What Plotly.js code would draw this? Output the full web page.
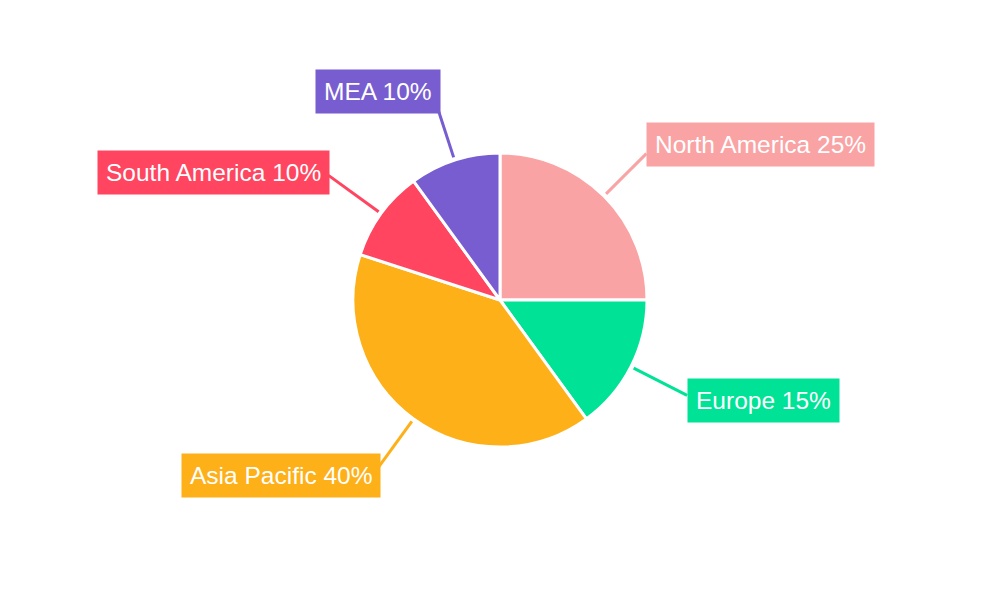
<!DOCTYPE html>
<html>
<head>
<meta charset="utf-8">
<script src="https://cdn.plot.ly/plotly-3.0.1.min.js"></script>
<style>html,body{margin:0;padding:0;background:#fff;}#chart{width:1000px;height:600px;}</style>
</head>
<body>
<div id="chart"></div>
<script>
var regions = ["North America", "Europe", "Asia Pacific", "South America", "MEA"];
var shares = [25, 15, 40, 10, 10];
var colors = ["#F9A3A4", "#00E396", "#FEB019", "#FF4560", "#775DD0"];

// leader-line geometry (pixels) and label box placement
var leaderLen = [57, 60, 56, 62, 48];
var boxSide = ["left", "left", "right", "right", "right"];
var boxDx = [0, 0, 2, 2, 2];
var boxDy = [-9, 5, 9, -3, -20];

var W = 1000, H = 600, mT = 153, mB = 153, mL = 0, mR = 0;
var plotH = H - mT - mB, plotW = W - mL - mR;
var cx = mL + plotW / 2, cy = mT + plotH / 2, R = Math.min(plotW, plotH) / 2;
function toPX(px) { return (px - mL) / plotW; }
function toPY(py) { return (H - mB - py) / plotH; }

var total = shares.reduce(function (a, b) { return a + b; }, 0);
var annotations = [], shapes = [];
var acc = 0;
for (var i = 0; i < regions.length; i++) {
  var mid = (acc + shares[i] / 2) / total * 2 * Math.PI;
  acc += shares[i];
  var s = Math.sin(mid), c = Math.cos(mid);
  var x0 = cx + (R + 3) * s, y0 = cy - (R + 3) * c;
  var x1 = cx + (R + 3 + leaderLen[i]) * s, y1 = cy - (R + 3 + leaderLen[i]) * c;
  shapes.push({
    type: "line", xref: "paper", yref: "paper",
    x0: toPX(x0), y0: toPY(y0), x1: toPX(x1), y1: toPY(y1),
    line: {color: colors[i], width: 3}
  });
  annotations.push({
    x: toPX(x1 + boxDx[i]), y: toPY(y1 + boxDy[i]),
    xref: "paper", yref: "paper",
    xanchor: boxSide[i], yanchor: "middle",
    text: regions[i] + " " + shares[i] + "%",
    showarrow: false,
    bgcolor: colors[i], borderpad: 8,
    font: {color: "#ffffff", size: 24.5, family: "Liberation Sans, Arial, sans-serif"}
  });
}

var data = [{
  type: "pie",
  labels: regions,
  values: shares,
  sort: false,
  direction: "clockwise",
  rotation: 0,
  textinfo: "none",
  hoverinfo: "label+percent",
  marker: {colors: colors, line: {color: "#ffffff", width: 3}},
  showlegend: false
}];

var layout = {
  width: W, height: H,
  margin: {l: mL, r: mR, t: mT, b: mB},
  paper_bgcolor: "#ffffff",
  showlegend: false,
  shapes: shapes,
  annotations: annotations
};

Plotly.newPlot("chart", data, layout, {displayModeBar: false});
</script>
</body>
</html>
